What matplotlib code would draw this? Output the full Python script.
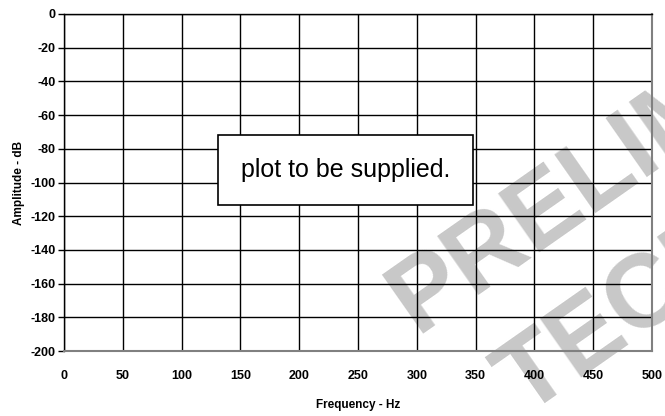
import numpy as np
import matplotlib.pyplot as plt
from matplotlib.patches import Rectangle

# ejes del grafico (sin datos todavia, solo la rejilla)
freq_ticks = [0, 50, 100, 150, 200, 250, 300, 350, 400, 450, 500]
amp_ticks = [0, -20, -40, -60, -80, -100, -120, -140, -160, -180, -200]
placeholder = 'plot to be supplied.'
watermark = ['PRELIM', 'TECH']

plt.rcParams['font.family'] = ['Liberation Sans', 'DejaVu Sans']

fig = plt.figure(figsize=(6.65, 4.16), dpi=100)
ax = fig.add_axes([64/665, 1 - 351/416, 588/665, 337/416])
ax.set_facecolor('none')

ax.set_xlim(freq_ticks[0], freq_ticks[-1])
ax.set_ylim(amp_ticks[-1], amp_ticks[0])
ax.set_xticks(freq_ticks)
ax.set_yticks(amp_ticks)
ax.set_xticklabels([str(v) for v in freq_ticks], fontsize=9, fontweight='bold')
ax.set_yticklabels([str(v) for v in amp_ticks], fontsize=9, fontweight='bold')
ax.tick_params(axis='x', length=0, pad=14)
ax.tick_params(axis='y', length=4, width=1, pad=2)
ax.grid(True, color='black', linewidth=1)

for s in ['left', 'top']:
    ax.spines[s].set_color('black')
    ax.spines[s].set_linewidth(1)
for s in ['right', 'bottom']:
    ax.spines[s].set_color('#808080')
    ax.spines[s].set_linewidth(1.5)

ax.set_xlabel('Frequency - Hz', fontsize=8.5, fontweight='bold', labelpad=12)
ax.set_ylabel('Amplitude - dB', fontsize=8.5, fontweight='bold', labelpad=4)

# caja del texto provisional
ax.add_patch(Rectangle((131, -113.4), 217, 41.6, facecolor='white',
                       edgecolor='black', linewidth=1.2, zorder=5))
ax.text(239.5, -92.5, placeholder, fontsize=18, ha='center', va='center', zorder=6)

# marca de agua detras de todo
fig.text(416/665, 1 - 334/416, watermark[0], fontsize=74, fontweight='bold',
         color='#c8c8c8', rotation=35, rotation_mode='anchor',
         ha='left', va='baseline', zorder=-1)
fig.text(525/665, 1 - 416/416, watermark[1], fontsize=74, fontweight='bold',
         color='#c8c8c8', rotation=35, rotation_mode='anchor',
         ha='left', va='baseline', zorder=-1)

fig.savefig('out.png', dpi=100)
